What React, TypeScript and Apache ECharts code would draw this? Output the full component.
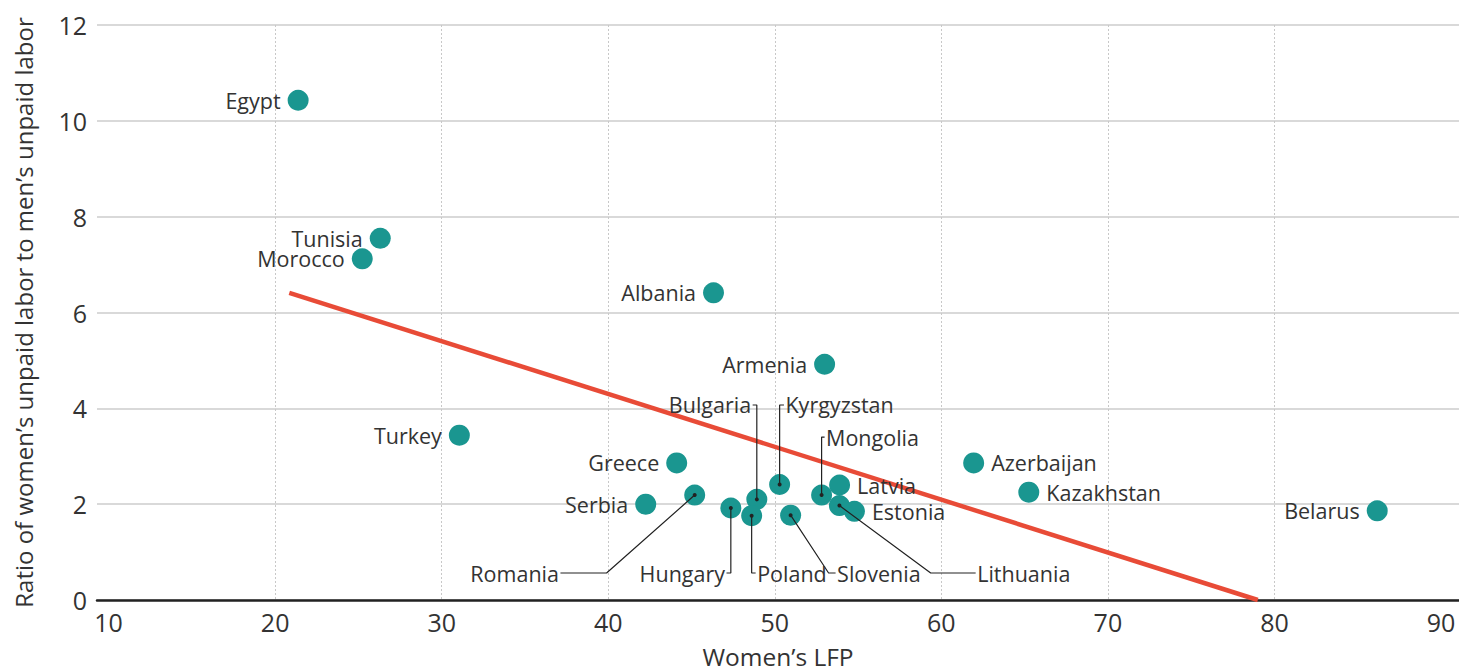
import React, { useEffect, useRef } from "react";
import * as echarts from "echarts";

// Country data: women's LFP (x) and ratio of women's to men's unpaid labor (y)
const countries = [
  "Egypt", "Tunisia", "Morocco", "Albania", "Armenia", "Turkey", "Greece",
  "Azerbaijan", "Kazakhstan", "Belarus", "Serbia", "Latvia", "Estonia",
  "Romania", "Hungary", "Bulgaria", "Poland", "Kyrgyzstan", "Slovenia",
  "Mongolia", "Lithuania",
];
const lfp = [
  21.38, 26.31, 25.23, 46.32, 52.99, 31.06, 44.11,
  61.94, 65.25, 86.17, 42.25, 53.89, 54.78,
  45.19, 47.36, 48.92, 48.61, 50.29, 50.95,
  52.81, 53.88,
];
const ratio = [
  10.43, 7.55, 7.12, 6.41, 4.92, 3.44, 2.86,
  2.86, 2.25, 1.86, 2.0, 2.40, 1.85,
  2.19, 1.92, 2.10, 1.76, 2.41, 1.77,
  2.19, 1.97,
];
// label side for directly labelled points
const labelSide: Record<string, string> = {
  Egypt: "left", Tunisia: "left", Morocco: "left", Albania: "left",
  Armenia: "left", Turkey: "left", Greece: "left", Serbia: "left",
  Belarus: "left", Azerbaijan: "right", Kazakhstan: "right",
  Latvia: "right", Estonia: "right",
};
// leader-line labels: bend points (data units) and label side
const leaderNames = ["Bulgaria", "Kyrgyzstan", "Mongolia", "Hungary", "Poland", "Slovenia", "Lithuania", "Romania"];
const leaderPaths: number[][][] = [
  [[48.92, 4.07], [48.67, 4.07]],
  [[50.29, 4.07], [50.55, 4.07]],
  [[52.81, 3.40], [52.99, 3.40]],
  [[47.36, 0.563], [47.10, 0.563]],
  [[48.61, 0.563], [48.85, 0.563]],
  [[53.23, 0.563], [53.65, 0.563]],
  [[59.36, 0.563], [62.06, 0.563]],
  [[39.90, 0.563], [37.13, 0.563]],
];
const leaderSide = ["left", "right", "right", "left", "right", "right", "right", "left"];
// trend line endpoints
const trendX = [20.85, 79.0];
const trendY = [6.41, 0.0];

const xTicks = [10, 20, 30, 40, 50, 60, 70, 80, 90];
const yTicks = [0, 2, 4, 6, 8, 10, 12];

const FONT = "'Open Sans', 'Noto Sans', sans-serif";
const TEXT = "#333333";
const LABEL_SIZE = 21.5;

export default function App() {
  const ref = useRef<HTMLDivElement>(null);
  useEffect(() => {
    document.body.style.margin = "0";
    if (!ref.current) return;
    const chart = echarts.init(ref.current, undefined, { renderer: "svg" });

    const pxPerUnit = (1459 - 108.6 - 18) / 80;
    const extMin = 10 - (108.6 - 97) / pxPerUnit;
    const extMax = 90 + 18 / pxPerUnit;

    const pointData = countries.map((c, i) => {
      const side = labelSide[c];
      return {
        name: c,
        value: [lfp[i], ratio[i]],
        label: side
          ? { show: true, position: side, distance: 7, formatter: c, color: TEXT }
          : { show: false },
      };
    });

    const leaderSeries: any[] = leaderNames.map((n, k) => {
      const i = countries.indexOf(n);
      const pts = [[lfp[i], ratio[i]], ...leaderPaths[k]];
      return {
        type: "line",
        xAxisIndex: 1,
        yAxisIndex: 1,
        z: 5,
        silent: true,
        showSymbol: true,
        symbol: "none",
        lineStyle: { color: "#222", width: 1.2 },
        data: pts.map((p, j) =>
          j === 0
            ? { value: p, symbol: "circle", symbolSize: 4, itemStyle: { color: "#222" } }
            : { value: p, symbol: "none" }
        ),
      };
    });

    const leaderLabels = {
      type: "scatter",
      xAxisIndex: 1,
      yAxisIndex: 1,
      symbolSize: 1,
      silent: true,
      z: 6,
      itemStyle: { color: "rgba(0,0,0,0)", opacity: 1 },
      data: leaderNames.map((n, k) => {
        const p = leaderPaths[k][leaderPaths[k].length - 1];
        return {
          name: n,
          value: p,
          label: {
            show: true, position: leaderSide[k], distance: 1, formatter: n,
            color: TEXT, fontSize: LABEL_SIZE, fontFamily: FONT, opacity: 1,
          },
        };
      }),
    };

    chart.setOption({
      animation: false,
      textStyle: { fontFamily: FONT },
      grid: [
        { left: 97, right: 0, top: 25, bottom: 71, outerBoundsMode: "none", containLabel: false },
        { left: 108.6, right: 18, top: 25, bottom: 71, outerBoundsMode: "none", containLabel: false },
      ],
      xAxis: [
        {
          gridIndex: 0,
          type: "value",
          min: extMin,
          max: extMax,
          axisLine: { show: true, lineStyle: { color: "#222", width: 2.5 } },
          axisTick: { show: false },
          axisLabel: { show: false },
          splitLine: { show: false },
          name: "Women’s LFP",
          nameLocation: "middle",
          nameGap: 44,
          nameTextStyle: { color: TEXT, fontSize: 24.5, fontFamily: FONT },
        },
        {
          gridIndex: 1,
          type: "value",
          min: xTicks[0],
          max: xTicks[xTicks.length - 1],
          interval: 10,
          axisLine: { show: false },
          axisTick: { show: false },
          axisLabel: { color: TEXT, fontSize: 25, fontFamily: FONT, margin: 9 },
          splitLine: {
            show: true,
            showMinLine: false,
            showMaxLine: false,
            lineStyle: { color: "#c8c8c8", type: [2, 2], width: 1 },
          },
        },
      ],
      yAxis: [
        {
          gridIndex: 0,
          type: "value",
          min: yTicks[0],
          max: yTicks[yTicks.length - 1],
          interval: 2,
          axisLine: { show: false },
          axisTick: { show: false },
          axisLabel: { color: TEXT, fontSize: 25, fontFamily: FONT, margin: 10 },
          splitLine: { show: true, lineStyle: { color: "#cccccc", width: 1.5 } },
          name: "Ratio of women’s unpaid labor to men’s unpaid labor",
          nameLocation: "middle",
          nameGap: 62,
          nameTextStyle: { color: TEXT, fontSize: 24, fontFamily: FONT },
        },
        {
          gridIndex: 1,
          type: "value",
          min: yTicks[0],
          max: yTicks[yTicks.length - 1],
          interval: 2,
          show: false,
        },
      ],
      series: [
        {
          type: "line",
          xAxisIndex: 1,
          yAxisIndex: 1,
          z: 3,
          silent: true,
          symbol: "none",
          lineStyle: { color: "#e84b37", width: 4.5 },
          data: trendX.map((x, i) => [x, trendY[i]]),
        },
        {
          type: "scatter",
          xAxisIndex: 1,
          yAxisIndex: 1,
          z: 4,
          symbolSize: 21,
          itemStyle: { color: "#1a9690", opacity: 1 },
          label: { color: TEXT, fontSize: LABEL_SIZE, fontFamily: FONT },
          data: pointData,
        },
        ...leaderSeries,
        leaderLabels,
      ],
    });
    return () => chart.dispose();
  }, []);
  return <div ref={ref} style={{ width: 1459, height: 671 }} />;
}
